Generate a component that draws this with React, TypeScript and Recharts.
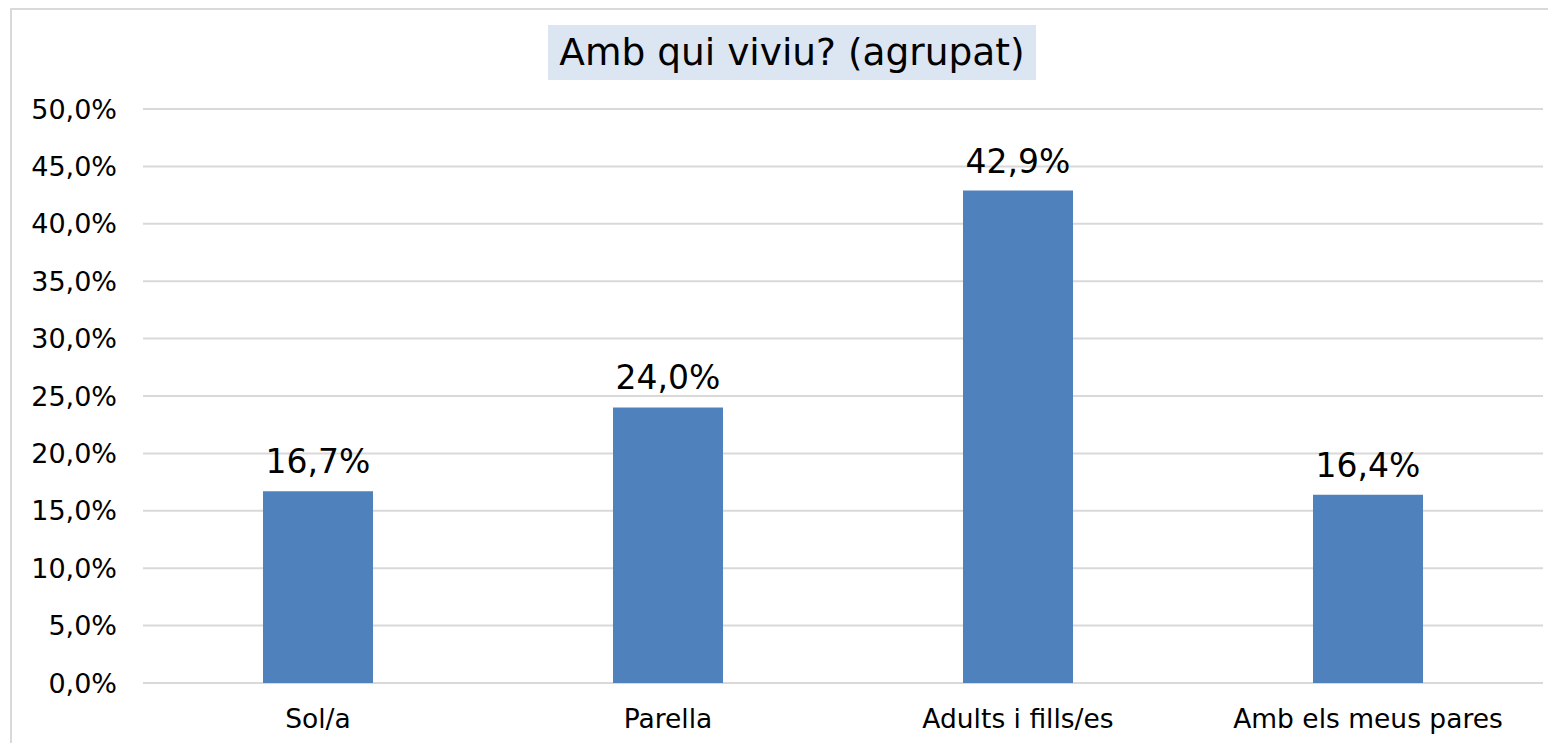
import React from "react";
import { Bar, BarChart, CartesianGrid, LabelList, XAxis, YAxis } from "recharts";

const categories = ["Sol/a", "Parella", "Adults i fills/es", "Amb els meus pares"];
const shares = [16.7, 24.0, 42.9, 16.4];
const yTicks = [0, 5, 10, 15, 20, 25, 30, 35, 40, 45, 50];

const fmt = (v: number) => v.toFixed(1).replace(".", ",") + "%";

const data = categories.map((name, i) => ({ name, value: shares[i] }));

const font = "'DejaVu Sans', Verdana, sans-serif";

export default function App() {
  return (
    <div
      style={{
        position: "absolute",
        left: 0,
        top: 0,
        width: 1548,
        height: 743,
        overflow: "hidden",
        background: "#fff",
        fontFamily: font,
      }}
    >
      <div
        style={{
          position: "absolute",
          left: 10,
          top: 8,
          width: 1600,
          height: 800,
          border: "2px solid #d9d9d9",
        }}
      />
      <div
        style={{
          position: "absolute",
          left: 548,
          top: 25,
          width: 488,
          height: 55,
          background: "#dce6f2",
          color: "#000",
          fontSize: 37.5,
          lineHeight: "55px",
          textAlign: "center",
        }}
      >
        Amb qui viviu? (agrupat)
      </div>
      <div style={{ position: "absolute", left: 0, top: 0 }}>
        <BarChart
          width={1548}
          height={743}
          data={data}
          margin={{ top: 109, right: 5, bottom: 0, left: 0 }}
          barSize={110}
        >
          <CartesianGrid vertical={false} stroke="#d9d9d9" strokeWidth={2} />
          <XAxis
            dataKey="name"
            height={60}
            axisLine={false}
            tickLine={false}
            tickMargin={20}
            tick={{ fill: "#000", fontSize: 26.5, fontFamily: font }}
            interval={0}
          />
          <YAxis
            width={143}
            domain={[0, 50]}
            ticks={yTicks}
            tickFormatter={fmt}
            axisLine={false}
            tickLine={false}
            tickMargin={20}
            tick={{ fill: "#000", fontSize: 27, fontFamily: font }}
          />
          <Bar dataKey="value" fill="#4f81bd" isAnimationActive={false}>
            <LabelList
              dataKey="value"
              position="top"
              offset={18}
              formatter={(v: any) => fmt(Number(v))}
              style={{ fill: "#000", fontSize: 33, fontFamily: font }}
            />
          </Bar>
        </BarChart>
      </div>
    </div>
  );
}
